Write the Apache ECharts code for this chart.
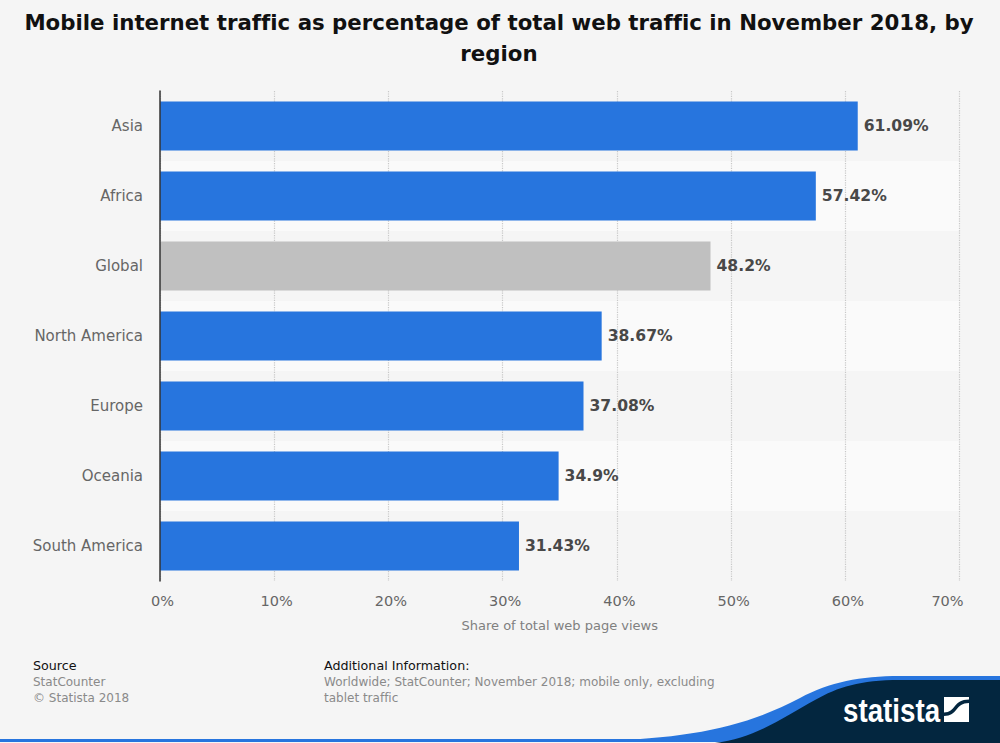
<!DOCTYPE html>
<html>
<head>
    <meta charset="utf-8">
    <title>Mobile internet traffic</title>
    <script src="https://cdn.jsdelivr.net/npm/echarts@6/dist/echarts.min.js"></script>
    <style type="text/css">
        html, body { margin: 0; padding: 0; background: #f5f5f5; }
        /* the original title has no ffi ligature */
        svg text { font-variant-ligatures: none; }
    </style>
</head>
<body>
<div id="main" style="width: 1000px;height: 743px;"></div>
<script type="text/javascript">
    var regions = ['Asia', 'Africa', 'Global', 'North America', 'Europe', 'Oceania', 'South America'];
    var shares = [61.09, 57.42, 48.2, 38.67, 37.08, 34.9, 31.43];
    var barColors = ['#2775de', '#2775de', '#c0c0c0', '#2775de', '#2775de', '#2775de', '#2775de'];
    var font = '"DejaVu Sans"';

    // graphic has no path type, so the footer curves are registered as shapes
    echarts.graphic.registerShape('swooshBlue', echarts.graphic.extendShape({
        buildPath: function (ctx) {
            ctx.moveTo(600, 741);
            ctx.bezierCurveTo(690, 738, 745, 727, 800, 698);
            ctx.bezierCurveTo(830, 682, 860, 676, 900, 676);
            ctx.lineTo(1000, 676);
            ctx.lineTo(1000, 743);
            ctx.closePath();
        }
    }));
    echarts.graphic.registerShape('swooshDark', echarts.graphic.extendShape({
        buildPath: function (ctx) {
            ctx.moveTo(715, 743);
            ctx.bezierCurveTo(755, 739, 785, 716, 815, 700);
            ctx.bezierCurveTo(838, 687, 860, 680, 900, 680);
            ctx.lineTo(1000, 680);
            ctx.lineTo(1000, 743);
            ctx.closePath();
        }
    }));
    echarts.graphic.registerShape('logoCut', echarts.graphic.extendShape({
        buildPath: function (ctx) {
            ctx.moveTo(944, 716);
            ctx.bezierCurveTo(958, 716, 955, 703, 969, 703);
            ctx.lineTo(969, 699.5);
            ctx.bezierCurveTo(953, 699.5, 956, 712.5, 944, 712.5);
            ctx.closePath();
        }
    }));

    var chart = echarts.init(document.getElementById('main'), null, {renderer: 'svg'});
    chart.setOption({
        backgroundColor: '#f5f5f5',
        animation: false,
        title: {
            text: 'Mobile internet traffic as percentage of total web traffic in November 2018, by\nregion',
            left: 494,
            top: 2,
            textAlign: 'center',
            textStyle: {fontFamily: font, fontSize: 21.3, fontWeight: 'bold', color: '#111111', lineHeight: 31}
        },
        grid: {left: 160, right: 40.5, top: 91, bottom: 162},
        xAxis: {
            type: 'value',
            min: 0,
            max: 70,
            interval: 10,
            name: 'Share of total web page views',
            nameLocation: 'middle',
            nameGap: 38,
            nameTextStyle: {fontFamily: font, fontSize: 13, color: '#808080'},
            axisLine: {show: false},
            axisTick: {show: false},
            axisLabel: {
                fontFamily: font,
                fontSize: 14.5,
                color: '#666666',
                margin: 12,
                padding: [0, 0, 0, 5],
                formatter: function (v) {
                    return v === 70 ? '{last|70%}' : v + '%';
                },
                rich: {
                    last: {fontFamily: font, fontSize: 14.5, color: '#666666', padding: [0, 29, 0, 0]}
                }
            },
            splitLine: {show: true, lineStyle: {color: '#c8c8c8', type: 'dotted', width: 1.2}}
        },
        yAxis: [{
            type: 'category',
            inverse: true,
            data: regions,
            axisLine: {show: false},
            axisTick: {show: false},
            axisLabel: {fontFamily: font, fontSize: 15, color: '#666666', margin: 17},
            splitArea: {show: true, areaStyle: {color: ['#f5f5f5', '#fafafa']}}
        }, {
            // only the dark line, drawn above the bars
            type: 'category',
            inverse: true,
            position: 'left',
            data: regions,
            z: 5,
            axisLine: {show: true, onZero: false, lineStyle: {color: '#333333', width: 1.5}},
            axisTick: {show: false},
            axisLabel: {show: false},
            splitLine: {show: false}
        }],
        series: [{
            type: 'bar',
            barWidth: '70%',
            data: shares.map(function (v, i) {
                return {value: v, itemStyle: {color: barColors[i]}};
            }),
            label: {
                show: true,
                position: 'right',
                distance: 6,
                fontFamily: font,
                fontSize: 15.6,
                fontWeight: 'bold',
                color: '#484848',
                formatter: '{c}%'
            }
        }],
        graphic: [
            {type: 'text', x: 33, y: 659, style: {text: 'Source', fontFamily: font, fontSize: 12.7, fill: '#111111'}},
            {type: 'text', x: 33, y: 676, style: {text: 'StatCounter', fontFamily: font, fontSize: 12, fill: '#8a8a8a'}},
            {type: 'text', x: 33, y: 692, style: {text: '© Statista 2018', fontFamily: font, fontSize: 12, fill: '#8a8a8a'}},
            {type: 'text', x: 324, y: 659, style: {text: 'Additional Information:', fontFamily: font, fontSize: 12.7, fill: '#111111'}},
            {type: 'text', x: 324, y: 676, style: {text: 'Worldwide; StatCounter; November 2018; mobile only, excluding', fontFamily: font, fontSize: 12, fill: '#8a8a8a'}},
            {type: 'text', x: 324, y: 692, style: {text: 'tablet traffic', fontFamily: font, fontSize: 12, fill: '#8a8a8a'}},
            // footer swoosh
            {type: 'rect', shape: {x: 0, y: 739, width: 1000, height: 3}, style: {fill: '#2775de'}},
            {type: 'swooshBlue', style: {fill: '#2775de'}},
            {type: 'swooshDark', style: {fill: '#03263f'}},
            {type: 'text', x: 843, y: 694, scaleX: 0.84, style: {text: 'statista', fontFamily: '"Liberation Sans"', fontSize: 33, fontWeight: 'bold', fill: '#ffffff'}},
            {type: 'rect', shape: {x: 944, y: 697, width: 25, height: 25}, style: {fill: '#ffffff'}},
            {type: 'logoCut', style: {fill: '#03263f'}}
        ]
    });
</script>
</body>
</html>
